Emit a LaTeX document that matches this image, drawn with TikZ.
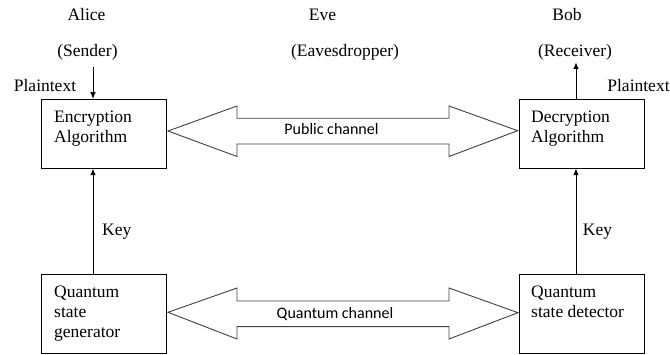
\documentclass[tikz,border=0pt]{standalone}
\usepackage{fontspec}
\setmainfont{Liberation Serif}
\newfontfamily\calib{Carlito}
\usetikzlibrary{arrows.meta}
\begin{document}
\begin{tikzpicture}[x=1pt,y=-1pt,
  box/.style={draw, line width=0.9pt, minimum width=125pt, inner sep=0pt},
  lbl/.style={font=\fontsize{17.5}{20}\selectfont, inner sep=0pt, anchor=base},
  txt/.style={font=\fontsize{17.5}{20}\selectfont, inner sep=0pt, anchor=base west},
  chan/.style={font=\calib\fontsize{16}{19}\selectfont, inner sep=0pt, anchor=base},
  conn/.style={line width=0.8pt, -{Latex[length=6.5pt,width=5.5pt]}},
  fat/.style={draw=black!75, line width=0.9pt, fill=white, line join=miter}]
\useasboundingbox (0,0) rectangle (670,355);
% boxes
\node[box, minimum height=69pt] (enc) at (103.5,133.7) {};
\node[box, minimum height=69pt] (dec) at (581.5,133.7) {};
\node[box, minimum height=79pt] (gen) at (103.5,313.8) {};
\node[box, minimum height=79pt] (det) at (581.5,313.8) {};
% box texts
\node[txt] (t1) at (54,122.7) {Encryption};
\node[txt] (t2) at (54,143) {Algorithm};
\node[txt] (t3) at (531,122.7) {Decryption};
\node[txt] (t4) at (531,143) {Algorithm};
\node[txt] (t5) at (54,297.7) {Quantum};
\node[txt] (t6) at (54,317.7) {state};
\node[txt] (t7) at (54,337.7) {generator};
\node[txt] (t8) at (531,297.7) {Quantum};
\node[txt] (t9) at (531,317.7) {state detector};
% top labels
\node[lbl] (alice) at (86.5,20.7) {Alice};
\node[lbl] (sender) at (87.5,57) {(Sender)};
\node[lbl] (eve) at (322.5,20.7) {Eve};
\node[lbl] (eaves) at (345,57) {(Eavesdropper)};
\node[lbl] (bob) at (567,20.7) {Bob};
\node[lbl] (recv) at (575,57) {(Receiver)};
\node[lbl] (ptl) at (45,91.7) {Plaintext};
\node[lbl] (ptr) at (638.5,92) {Plaintext};
\node[lbl] (keyl) at (116.7,236) {Key};
\node[lbl] (keyr) at (597.5,236) {Key};
% thin arrows
\coordinate (ax) at (93,66.7);
\coordinate (bx) at (576,62.5);
\draw[conn] (ax) -- (ax |- enc.north);
\draw[conn] (ax |- gen.north) -- (ax |- enc.south);
\draw[conn] (bx |- dec.north) -- (bx);
\draw[conn] (bx |- det.north) -- (bx |- dec.south);
% public channel double arrow
\draw[fat] (168,131) -- (237,106) -- (237,118.3) -- (449,118.3) -- (449,106)
  -- (517.7,130.7) -- (449,156.5) -- (449,144) -- (237,144) -- (237,156.5) -- cycle;
\node[chan] (pub) at (331.5,134.5) {Public channel};
% quantum channel double arrow
\draw[fat] (168,312.3) -- (237,288) -- (237,301) -- (449,301) -- (449,288)
  -- (518,312.7) -- (449,339) -- (449,326.7) -- (237,326.7) -- (237,339) -- cycle;
\node[chan] (qch) at (335,319) {Quantum channel};
\end{tikzpicture}
\end{document}
